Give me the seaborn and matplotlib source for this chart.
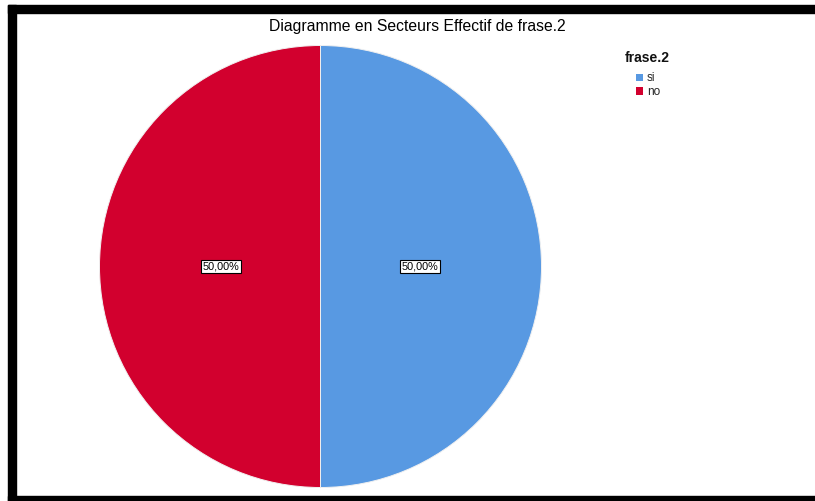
import matplotlib
matplotlib.use("Agg")
import matplotlib.pyplot as plt
from matplotlib.patches import Rectangle, Patch
import seaborn as sns

categories = ["si", "no"]
counts = [1, 1]
colors = ["#5899E2", "#D2002E"]
title = "Diagramme en Secteurs Effectif de frase.2"
legend_title = "frase.2"

sns.set_theme(style="white")
plt.rcParams["font.family"] = ["Liberation Sans", "DejaVu Sans"]

W, H = 815, 501
fig = plt.figure(figsize=(W / 100, H / 100), dpi=100)
fig.patch.set_facecolor("white")

cx, cy, r = 320.5, 266.5, 221
ax = fig.add_axes([(cx - r) / W, (H - cy - r) / H, 2 * r / W, 2 * r / H])
sns.set_palette(sns.color_palette(colors))

def fmt(p):
    return f"{p:.2f}%".replace(".", ",")

wedges, texts, autotexts = ax.pie(
    counts, colors=colors, startangle=90, counterclock=False,
    autopct=fmt, pctdistance=0.45, radius=1,
    wedgeprops=dict(edgecolor="#f0f0f0", linewidth=0.7),
    textprops=dict(fontsize=7.8, color="black"),
)
for t in autotexts:
    t.set_bbox(dict(facecolor="white", edgecolor="black", linewidth=0.8, pad=1.3))
ax.set_xlim(-1, 1)
ax.set_ylim(-1, 1)
ax.set_aspect("equal")
ax.axis("off")

fig.text(417 / W, 1 - 27 / H, title, ha="center", va="center", fontsize=11.3, color="black")

fig.text(625 / W, 1 - 58 / H, legend_title, ha="left", va="center",
         fontsize=10, fontweight="bold", color="#111111")

handles = [Patch(facecolor=c, edgecolor="none", label=l) for c, l in zip(colors, categories)]
leg = fig.legend(handles=handles, loc="upper left",
                 bbox_to_anchor=(636 / W, 1 - 72.5 / H), frameon=False,
                 fontsize=8.5, handlelength=0.62, handleheight=0.62,
                 handletextpad=0.3, labelspacing=0.12, borderpad=0,
                 borderaxespad=0)

# outer black border (left, top, bottom)
fig.patches.append(Rectangle((8 / W, 0), 8 / W, 1 - 5 / H, transform=fig.transFigure, color="black", zorder=10))
fig.patches.append(Rectangle((8 / W, 1 - 13 / H), 1, 8 / H, transform=fig.transFigure, color="black", zorder=10))
fig.patches.append(Rectangle((8 / W, 0), 1, 5 / H, transform=fig.transFigure, color="black", zorder=10))

fig.savefig("out.png", dpi=100, facecolor="white")
